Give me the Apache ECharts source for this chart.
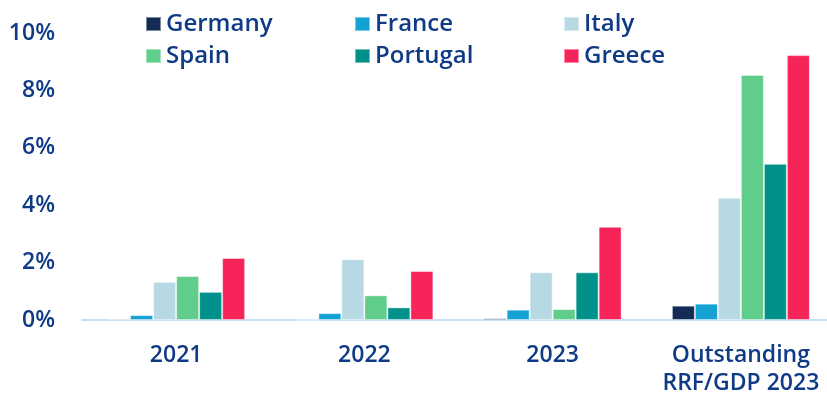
<!DOCTYPE html>
<html>
<head>
<meta charset="utf-8">
<script src="https://cdn.jsdelivr.net/npm/echarts@6/dist/echarts.min.js"></script>
<style>
  html, body { margin: 0; padding: 0; background: #ffffff; }
  #chart { width: 827px; height: 403px; }
</style>
</head>
<body>
<div id="chart"></div>
<script>
// categories on the x axis
const categories = ['2021', '2022', '2023', 'Outstanding\nRRF/GDP 2023'];

// values in % of GDP
const germany  = [0.04, 0.00, 0.06, 0.50];
const france   = [0.17, 0.24, 0.36, 0.57];
const italy    = [1.33, 2.12, 1.66, 4.26];
const spain    = [1.53, 0.86, 0.38, 8.54];
const portugal = [0.98, 0.44, 1.66, 5.44];
const greece   = [2.16, 1.71, 3.25, 9.23];

const yTicks = [0, 2, 4, 6, 8, 10];

const textColor = '#0f3a86';
const fontFamily = '"Open Sans", "DejaVu Sans", sans-serif';

const colors = {
  Germany: '#132b55',
  France: '#14a1d4',
  Italy: '#b6d9e4',
  Spain: '#60cd8a',
  Portugal: '#00918b',
  Greece: '#f7245a'
};

const seriesData = [
  ['Germany', germany],
  ['France', france],
  ['Italy', italy],
  ['Spain', spain],
  ['Portugal', portugal],
  ['Greece', greece]
];

const chart = echarts.init(document.getElementById('chart'), null, { renderer: 'canvas' });

// legend: three columns of two rows
const legendColumn = (names, left) => ({
  data: names,
  left: left,
  top: 12,
  padding: 0,
  orient: 'vertical',
  itemWidth: 15,
  itemHeight: 14,
  itemGap: 8,
  icon: 'rect',
  textStyle: {
    color: textColor,
    fontSize: 24,
    fontWeight: 600,
    fontFamily: fontFamily,
    lineHeight: 24
  }
});

chart.setOption({
  backgroundColor: '#ffffff',
  animation: false,
  legend: [
    legendColumn(['Germany', 'Spain'], 145),
    legendColumn(['France', 'Portugal'], 354),
    legendColumn(['Italy', 'Greece'], 563)
  ],
  grid: {
    left: 82,
    width: 753,
    top: 33,
    bottom: 83,
    containLabel: false,
    outerBoundsMode: 'none'
  },
  xAxis: {
    type: 'category',
    data: categories,
    axisTick: { show: false },
    axisLine: { lineStyle: { color: '#c6defa', width: 2 } },
    axisLabel: {
      color: textColor,
      fontSize: 23,
      fontWeight: 600,
      fontFamily: fontFamily,
      lineHeight: 28,
      margin: 21,
      interval: 0
    }
  },
  yAxis: {
    type: 'value',
    min: yTicks[0],
    max: yTicks[yTicks.length - 1],
    interval: 2,
    splitLine: { show: false },
    axisLine: { show: false },
    axisTick: { show: false },
    axisLabel: {
      color: textColor,
      fontSize: 23,
      fontWeight: 600,
      fontFamily: fontFamily,
      margin: 27,
      formatter: '{value}%'
    }
  },
  series: seriesData.map(([name, values]) => ({
    name: name,
    type: 'bar',
    data: values,
    barWidth: 23,
    barGap: '0%',
    itemStyle: {
      color: colors[name],
      borderColor: 'rgba(255,255,255,0.45)',
      borderWidth: 1
    }
  }))
});
</script>
</body>
</html>
